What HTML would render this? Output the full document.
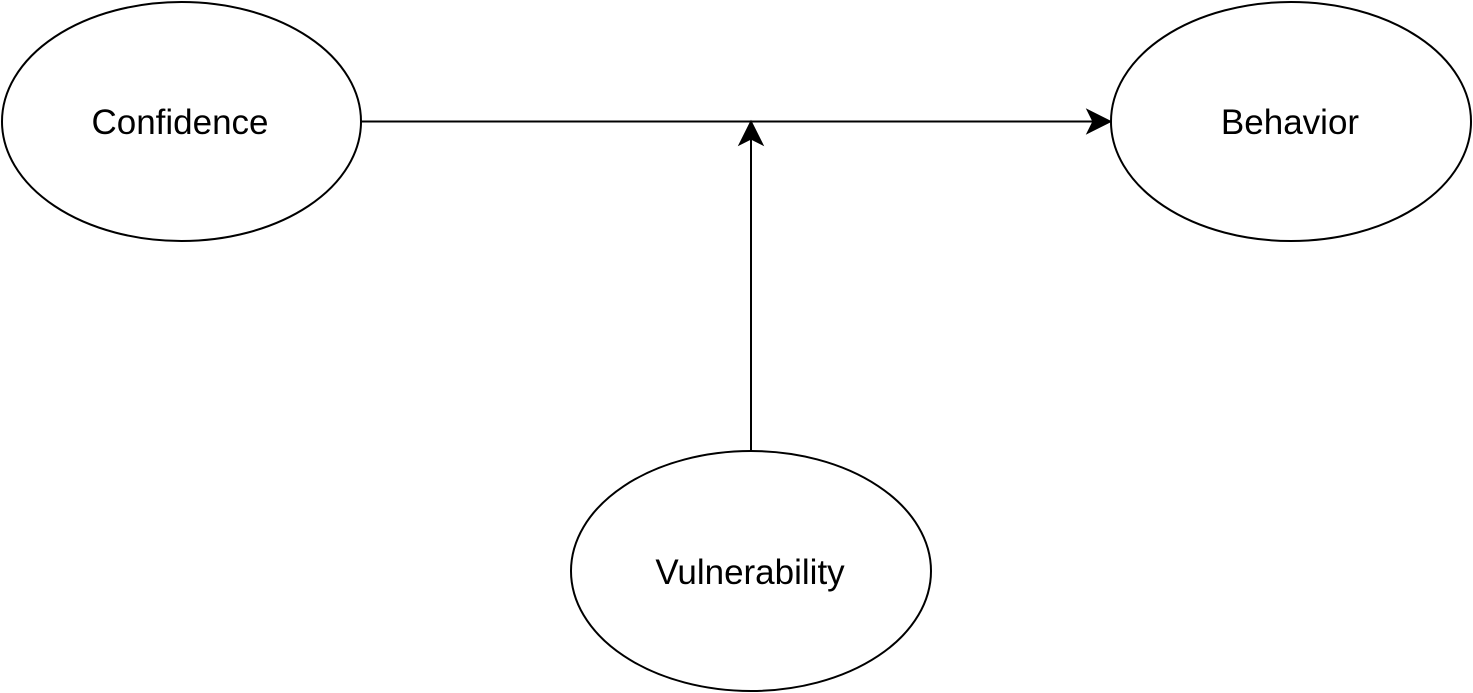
<!DOCTYPE html>
<html><head><meta charset="utf-8"><style>
html,body{margin:0;padding:0;background:#fff;}
svg{display:block;}
text{font-family:"Liberation Sans",Arial,sans-serif;font-size:35px;fill:#000;}
</style></head><body>
<svg width="1473" height="693" viewBox="0 0 1473 693" xmlns="http://www.w3.org/2000/svg">
<g fill="#fff" stroke="#000" stroke-width="2">
<ellipse cx="181.5" cy="121.5" rx="179.5" ry="119.5"/>
<ellipse cx="1291" cy="121.5" rx="180" ry="119.5"/>
<ellipse cx="751" cy="571" rx="180" ry="120"/>
</g>
<g stroke="#000" stroke-width="2" fill="none">
<line x1="361" y1="121.5" x2="1100" y2="121.5"/>
<line x1="751" y1="451" x2="751" y2="135"/>
</g>
<g fill="#000" stroke="#000" stroke-width="2" stroke-linejoin="miter">
<path d="M1110,121.5 L1088,110.5 L1093.5,121.5 L1088,132.5 Z"/>
<path d="M751,122 L740,144 L751,138.5 L762,144 Z"/>
</g>
<text x="180" y="134" text-anchor="middle">Confidence</text>
<text x="1290" y="134" text-anchor="middle">Behavior</text>
<text x="750" y="584" text-anchor="middle">Vulnerability</text>
</svg>
</body></html>
